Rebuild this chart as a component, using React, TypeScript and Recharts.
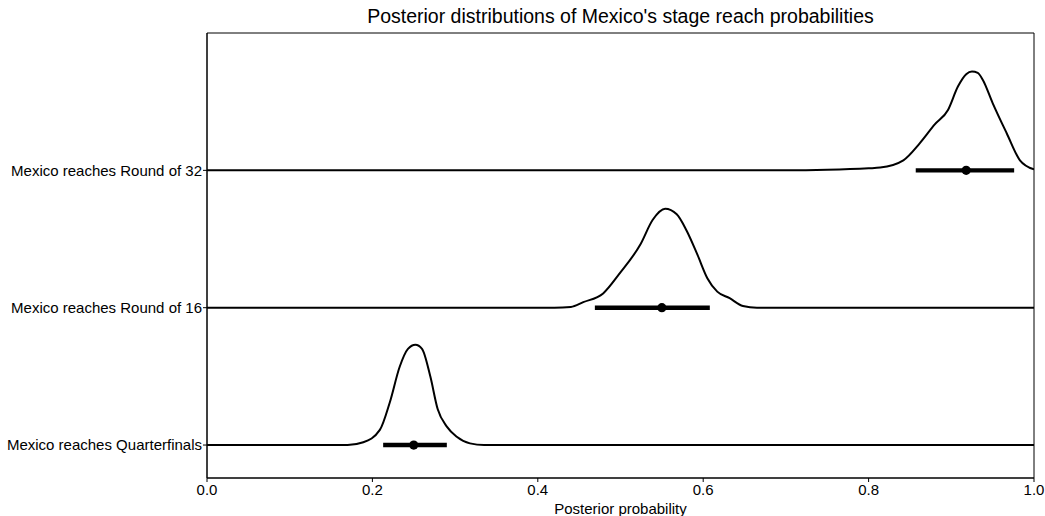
import { ComposedChart, Line, ReferenceArea, Scatter, XAxis, YAxis } from 'recharts';

const FONT = '"Liberation Sans", Arial, Helvetica, sans-serif';

const STAGES = ['Mexico reaches Round of 32', 'Mexico reaches Round of 16', 'Mexico reaches Quarterfinals'];

// density curves, heights in units of ridge spacing
const R32_X = [0, 0.7, 0.75, 0.8, 0.814, 0.842, 0.862, 0.88, 0.896, 0.908, 0.918, 0.925, 0.932, 0.938, 0.95, 0.967, 0.983, 1.0];
const R32_DENSITY = [0, 0, 0.004, 0.015, 0.02, 0.073, 0.198, 0.334, 0.44, 0.61, 0.7, 0.72, 0.71, 0.66, 0.49, 0.27, 0.073, 0.007];

const R16_X = [0, 0.42, 0.44, 0.455, 0.479, 0.499, 0.524, 0.539, 0.554, 0.568, 0.58, 0.593, 0.605, 0.617, 0.632, 0.648, 0.665, 1];
const R16_DENSITY = [0, 0, 0.005, 0.04, 0.104, 0.25, 0.46, 0.64, 0.72, 0.68, 0.56, 0.386, 0.215, 0.117, 0.069, 0.012, 0, 0];

const QF_X = [0, 0.17, 0.189, 0.209, 0.221, 0.233, 0.243, 0.252, 0.26, 0.27, 0.279, 0.29, 0.302, 0.318, 0.335, 1];
const QF_DENSITY = [0, 0, 0.02, 0.11, 0.31, 0.57, 0.7, 0.73, 0.7, 0.5, 0.26, 0.134, 0.06, 0.012, 0, 0];

// interval summaries, same order as STAGES
const LOWER = [0.857, 0.469, 0.213];
const MEDIAN = [0.918, 0.55, 0.25];
const UPPER = [0.976, 0.608, 0.29];

const X_TICKS = [0, 0.2, 0.4, 0.6, 0.8, 1.0];

const SPACING = 1;
const PAD = 0.24;
const baseOf = (i: number) => PAD + (STAGES.length - 1 - i) * SPACING;
const Y_MAX = PAD + (STAGES.length - 1) * SPACING + 1;

const curves = [
  { xs: R32_X, ds: R32_DENSITY },
  { xs: R16_X, ds: R16_DENSITY },
  { xs: QF_X, ds: QF_DENSITY }
].map(({ xs, ds }, i) => xs.map((x, k) => ({ x, y: baseOf(i) + ds[k] })));

const intervals = STAGES.map((_, i) => [
  { x: LOWER[i], y: baseOf(i) },
  { x: UPPER[i], y: baseOf(i) }
]);

const medians = STAGES.map((_, i) => ({ x: MEDIAN[i], y: baseOf(i) }));

const tickStyle = { fill: '#000', fontSize: 15, fontFamily: FONT };

export default function App() {
  return (
    <div style={{ position: 'absolute', left: 0, top: 0, width: 1045, height: 516, background: '#fff', fontFamily: FONT }}>
      <div style={{ position: 'absolute', left: 207, width: 827, top: 5, textAlign: 'center', fontSize: 19.5, color: '#000' }}>
        Posterior distributions of Mexico's stage reach probabilities
      </div>
      <ComposedChart width={1045} height={516} margin={{ top: 33, right: 11, left: 0, bottom: 0 }}>
        <XAxis
          xAxisId="x"
          type="number"
          dataKey="x"
          domain={[0, 1]}
          ticks={X_TICKS}
          tickFormatter={(v: number) => v.toFixed(1)}
          allowDataOverflow
          height={38}
          tickSize={4}
          tickMargin={2}
          tick={tickStyle}
          axisLine={{ stroke: '#000', strokeWidth: 1 }}
          tickLine={{ stroke: '#000', strokeWidth: 1 }}
          label={{ value: 'Posterior probability', position: 'insideBottom', offset: 2, fill: '#000', fontSize: 15, fontFamily: FONT }}
        />
        <YAxis
          yAxisId="y"
          type="number"
          dataKey="y"
          domain={[0, Y_MAX]}
          ticks={STAGES.map((_, i) => baseOf(i))}
          tickFormatter={(v: number) => STAGES[Math.round(STAGES.length - 1 - (v - PAD) / SPACING)]}
          allowDataOverflow
          width={207}
          tickSize={4}
          tickMargin={1}
          tick={tickStyle}
          axisLine={{ stroke: '#000', strokeWidth: 1 }}
          tickLine={{ stroke: '#000', strokeWidth: 1 }}
        />
        <ReferenceArea xAxisId="x" yAxisId="y" x1={0} x2={1} y1={0} y2={Y_MAX} fill="none" stroke="#000" strokeWidth={1} ifOverflow="visible" />
        {curves.map((data, i) => (
          <Line
            key={`curve-${i}`}
            xAxisId="x"
            yAxisId="y"
            data={data}
            dataKey="y"
            type="monotone"
            stroke="#000"
            strokeWidth={2}
            dot={false}
            activeDot={false}
            isAnimationActive={false}
          />
        ))}
        {intervals.map((data, i) => (
          <Line
            key={`int-${i}`}
            xAxisId="x"
            yAxisId="y"
            data={data}
            dataKey="y"
            type="linear"
            stroke="#000"
            strokeWidth={4.4}
            strokeLinecap="butt"
            dot={false}
            activeDot={false}
            isAnimationActive={false}
          />
        ))}
        <Scatter
          xAxisId="x"
          yAxisId="y"
          data={medians}
          dataKey="y"
          fill="#000"
          isAnimationActive={false}
          shape={(p: any) => <circle cx={p.cx} cy={p.cy} r={4.6} fill="#000" />}
        />
      </ComposedChart>
    </div>
  );
}
